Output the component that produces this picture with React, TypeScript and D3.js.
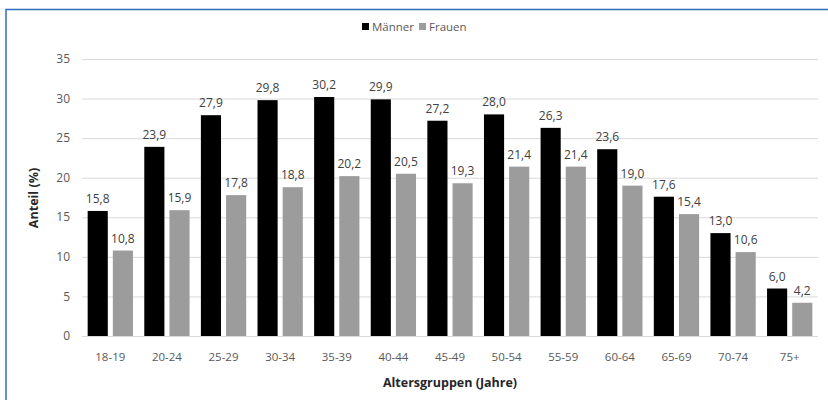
import { useEffect, useRef } from "react"
import * as d3 from "d3"

const categories = ["18-19", "20-24", "25-29", "30-34", "35-39", "40-44", "45-49", "50-54", "55-59", "60-64", "65-69", "70-74", "75+"]
const maenner = [15.8, 23.9, 27.9, 29.8, 30.2, 29.9, 27.2, 28.0, 26.3, 23.6, 17.6, 13.0, 6.0]
const frauen = [10.8, 15.9, 17.8, 18.8, 20.2, 20.5, 19.3, 21.4, 21.4, 19.0, 15.4, 10.6, 4.2]
const seriesNames = ["Männer", "Frauen"]
const yTicks = [0, 5, 10, 15, 20, 25, 30, 35]

const W = 828
const H = 400
const FONT = "'Open Sans', 'Liberation Sans', sans-serif"
const TEXT = "#595959"

export default function App() {
  const ref = useRef<SVGSVGElement>(null)

  useEffect(() => {
    document.body.style.margin = "0"
    const svg = d3.select(ref.current)
    svg.selectAll("*").remove()

    // Frame (blue border, open at right/bottom)
    svg.append("rect")
      .attr("width", W)
      .attr("height", H)
      .attr("fill", "#ffffff")
    svg.append("rect")
      .attr("x", 6)
      .attr("y", 9.5)
      .attr("width", W + 10)
      .attr("height", H + 10)
      .attr("fill", "none")
      .attr("stroke", "#2f6ebd")
      .attr("stroke-width", 1.5)

    const x = d3.scaleBand<string>()
      .domain(categories)
      .range([82, 818])
      .paddingInner(0.2)
      .paddingOuter(0.1)

    // two bars per group with a small gap between them
    const inner = d3.scaleBand<number>()
      .domain([0, 1])
      .range([0, x.bandwidth()])
      .paddingInner(0.2)

    const y = d3.scaleLinear().domain([0, 35]).range([336, 59])

    // Gridlines
    svg.append("g")
      .selectAll("line")
      .data(yTicks)
      .join("line")
      .attr("x1", 82)
      .attr("x2", 818)
      .attr("y1", d => y(d) + 0.5)
      .attr("y2", d => y(d) + 0.5)
      .attr("stroke", "#d9d9d9")
      .attr("stroke-width", 1)

    // Y tick labels
    svg.append("g")
      .selectAll("text")
      .data(yTicks)
      .join("text")
      .attr("x", 70)
      .attr("y", d => y(d))
      .attr("dy", "0.35em")
      .attr("text-anchor", "end")
      .attr("font-family", FONT)
      .attr("font-size", 12)
      .attr("fill", TEXT)
      .text(d => d)

    const series = [maenner, frauen]
    const colors = ["#000000", "#9c9c9c"]
    const fmt = (v: number) => v.toFixed(1).replace(".", ",")

    series.forEach((vals, si) => {
      const g = svg.append("g")
      g.selectAll("rect")
        .data(vals)
        .join("rect")
        .attr("x", (_, i) => x(categories[i])! + inner(si)!)
        .attr("y", d => y(d))
        .attr("width", inner.bandwidth())
        .attr("height", d => y(0) - y(d))
        .attr("fill", colors[si])

      g.selectAll("text")
        .data(vals)
        .join("text")
        .attr("x", (_, i) => x(categories[i])! + inner(si)! + inner.bandwidth() / 2)
        .attr("y", d => y(d) - 8)
        .attr("text-anchor", "middle")
        .attr("font-family", FONT)
        .attr("font-size", 12)
        .attr("fill", "#404040")
        .text(d => fmt(d))
    })

    // X tick labels
    svg.append("g")
      .selectAll("text")
      .data(categories)
      .join("text")
      .attr("x", d => x(d)! + x.bandwidth() / 2)
      .attr("y", 361)
      .attr("text-anchor", "middle")
      .attr("font-family", FONT)
      .attr("font-size", 11.5)
      .attr("fill", TEXT)
      .text(d => d)

    // Axis titles
    svg.append("text")
      .attr("x", 450)
      .attr("y", 387)
      .attr("text-anchor", "middle")
      .attr("font-family", FONT)
      .attr("font-size", 12.5)
      .attr("font-weight", "bold")
      .attr("fill", "#262626")
      .text("Altersgruppen (Jahre)")

    svg.append("text")
      .attr("transform", "translate(38,198) rotate(-90)")
      .attr("text-anchor", "middle")
      .attr("font-family", FONT)
      .attr("font-size", 12.5)
      .attr("font-weight", "bold")
      .attr("fill", "#262626")
      .text("Anteil (%)")

    // Legend
    const legend = svg.append("g")
    const legendX = [362, 419]
    seriesNames.forEach((name, i) => {
      legend.append("rect")
        .attr("x", legendX[i])
        .attr("y", 23)
        .attr("width", 7)
        .attr("height", 7)
        .attr("fill", colors[i])
      legend.append("text")
        .attr("x", legendX[i] + 10)
        .attr("y", 27)
        .attr("dy", "0.35em")
        .attr("font-family", FONT)
        .attr("font-size", 11.5)
        .attr("fill", TEXT)
        .text(name)
    })
  }, [])

  return <svg ref={ref} width={W} height={H} style={{ display: "block" }} />
}
